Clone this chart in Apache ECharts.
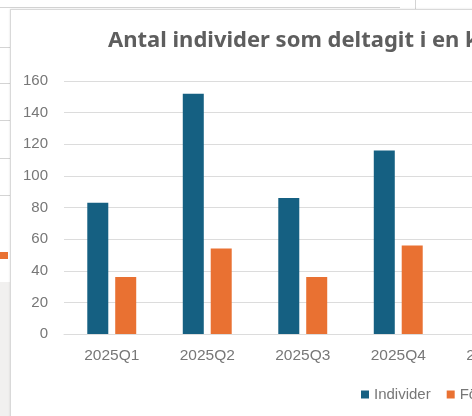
<!DOCTYPE html>
<html>
<head>
<meta charset="utf-8">
<script src="https://cdn.jsdelivr.net/npm/echarts@6/dist/echarts.min.js"></script>
<style>
  html, body { margin: 0; padding: 0; width: 472px; height: 416px; overflow: hidden; background: #fff; }
  #sheet { position: absolute; left: 0; top: 0; width: 472px; height: 416px; }
  .row { position: absolute; left: 0; width: 10px; height: 1px; background: #d4d4d4; }
  #grayPart { position: absolute; left: 0; top: 282px; width: 10px; height: 134px; background: #f1f0ef; }
  #mark { position: absolute; left: 0; top: 252px; width: 8px; height: 7px; background: #e97132; }
  #topLine { position: absolute; left: 0; top: 7px; width: 400px; height: 1px; background: #d4d4d4; }
  #topCell { position: absolute; left: 415px; top: 0; width: 1px; height: 9px; background: #d4d4d4; }
  #frame { position: absolute; left: 10px; top: 9px; width: 600px; height: 420px; border: 1px solid #d9d9d9; background: #fff; box-shadow: 0 0 2px rgba(0,0,0,0.12); }
  #chart { position: absolute; left: 11px; top: 10px; width: 560px; height: 406px; }
</style>
</head>
<body>
<div id="sheet">
  <div id="topLine"></div>
  <div id="topCell"></div>
  <div class="row" style="top:47px"></div>
  <div class="row" style="top:83px"></div>
  <div class="row" style="top:120px"></div>
  <div class="row" style="top:158px"></div>
  <div class="row" style="top:195px"></div>
  <div class="row" style="top:282px"></div>
  <div id="grayPart"></div>
  <div id="mark"></div>
  <div id="frame"></div>
</div>
<div id="chart"></div>
<script>
// kvartal och värden
const categories = ['2025Q1', '2025Q2', '2025Q3', '2025Q4', '2026Q1'];
const individer = [83, 152, 86, 116, null];
const foraldrar = [36, 54, 36, 56, null];
const seriesNames = ['Individer', 'Föräldrar'];
const titleText = 'Antal individer som deltagit i en kurs';

const chart = echarts.init(document.getElementById('chart'));

const labelColor = '#777777';
const gridColor = '#dcdcdc';

const option = {
  animation: false,
  title: {
    text: titleText,
    left: 92,
    top: 15,
    textStyle: {
      color: '#5e5e5e',
      fontFamily: 'Noto Sans',
      fontWeight: 'bold',
      fontSize: 22
    }
  },
  legend: {
    data: seriesNames,
    left: 345,
    top: 372,
    itemWidth: 8,
    itemHeight: 8,
    itemGap: 16,
    icon: 'rect',
    textStyle: {
      color: labelColor,
      fontFamily: 'Liberation Sans',
      fontSize: 15
    }
  },
  grid: {
    left: 53,
    top: 71,
    width: 477.5,
    bottom: 82
  },
  xAxis: {
    type: 'category',
    data: categories,
    axisLine: { lineStyle: { color: gridColor, width: 1 } },
    axisTick: { show: false },
    axisLabel: {
      color: labelColor,
      fontFamily: 'Liberation Sans',
      fontSize: 15.5,
      margin: 14,
      interval: 0
    }
  },
  yAxis: {
    type: 'value',
    min: 0,
    max: 160,
    interval: 20,
    axisLine: { show: false },
    axisTick: { show: false },
    splitLine: { lineStyle: { color: gridColor, width: 1 } },
    axisLabel: {
      color: labelColor,
      fontFamily: 'Liberation Sans',
      fontSize: 15,
      margin: 16
    }
  },
  series: [
    {
      name: seriesNames[0],
      type: 'bar',
      barWidth: 21,
      barGap: '33%',
      itemStyle: { color: '#156082' },
      data: individer
    },
    {
      name: seriesNames[1],
      type: 'bar',
      barWidth: 21,
      itemStyle: { color: '#e97132' },
      data: foraldrar
    }
  ]
};

chart.setOption(option);
</script>
</body>
</html>
